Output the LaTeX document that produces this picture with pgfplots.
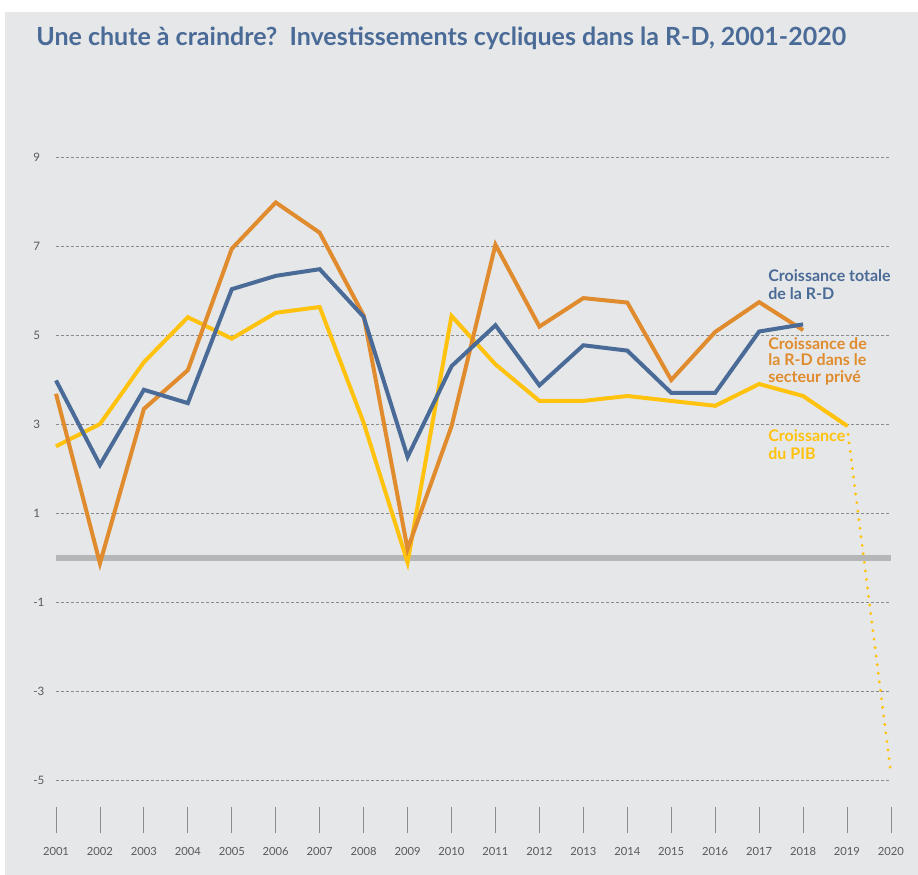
\documentclass[border=0pt]{standalone}
\usepackage{pgfplots}
\pgfplotsset{compat=1.18}
\usepackage{fontspec}
\setmainfont{Lato}
\definecolor{bg}{HTML}{E6E7E8}
\definecolor{rdblue}{HTML}{4A6B97}
\definecolor{rdorange}{HTML}{E08B2D}
\definecolor{pibyellow}{HTML}{FFC20E}
\definecolor{zerogrey}{HTML}{B5B6B8}
\definecolor{gridgrey}{HTML}{8A8B8D}
\definecolor{ticktext}{HTML}{58595B}
\begin{document}
\begin{tikzpicture}
\path[use as bounding box] (0,0) rectangle (459pt,437.5pt);
\fill[bg] (2.5pt,0) rectangle (459pt,431.5pt);
\node[anchor=west, inner sep=0pt, text=rdblue, font=\fontsize{12.5}{14}\selectfont\bfseries] at (18pt,418.5pt) {Une chute à craindre?\ \ Investissements cycliques dans la R-D, 2001-2020};
\begin{axis}[
  at={(28pt,47.25pt)}, anchor=south west,
  width=417.5pt, height=311.5pt, scale only axis,
  xmin=2001, xmax=2020, ymin=-5, ymax=9,
  axis line style={draw=none},
  clip=false,
  xtick={2001,...,2020},
  ytick={-5,-3,-1,1,3,5,7,9},
  major tick length=0pt,
  tick style={draw=none},
  /pgf/number format/assume math mode=true,
  /pgf/number format/1000 sep={},
  xticklabel style={anchor=north, inner sep=0pt, yshift=-33pt, font=\fontsize{5.6}{6}\selectfont, text=ticktext},
  yticklabel style={anchor=west, inner sep=0pt, xshift=-11.5pt, font=\fontsize{5.8}{6}\selectfont, text=ticktext},
  ymajorgrids,
  major grid style={gridgrey, dash pattern=on 1.5pt off 1pt, line width=0.4pt},
  extra y ticks={0},
  extra y tick labels={},
  extra y tick style={grid=major, major grid style={zerogrey, solid, line width=2.6pt}},
]
\pgfplotsinvokeforeach{2001,...,2020}{
  \draw[gridgrey, line width=0.4pt] (axis cs:#1,-5.6) -- (axis cs:#1,-6.18);
}
% PIB
\addplot[pibyellow, line width=2pt, mark=none] coordinates {
 (2001,2.51) (2002,3.01) (2003,4.40) (2004,5.41) (2005,4.93) (2006,5.51)
 (2007,5.64) (2008,3.04) (2009,-0.10) (2010,5.44) (2011,4.35) (2012,3.53)
 (2013,3.53) (2014,3.64) (2015,3.53) (2016,3.42) (2017,3.91) (2018,3.64)
 (2019,2.97)};
\addplot[pibyellow, line width=1.6pt, line cap=round, dash pattern=on 0pt off 4.3pt, mark=none] coordinates {
 (2019,2.97) (2020,-4.85)};
% prive
\addplot[rdorange, line width=2pt, mark=none] coordinates {
 (2001,3.69) (2002,-0.12) (2003,3.35) (2004,4.22) (2005,6.95) (2006,7.99)
 (2007,7.31) (2008,5.45) (2009,0.20) (2010,2.96) (2011,7.04) (2012,5.20)
 (2013,5.84) (2014,5.74) (2015,4.00) (2016,5.08) (2017,5.75) (2018,5.12)};
% totale
\addplot[rdblue, line width=2pt, mark=none] coordinates {
 (2001,3.99) (2002,2.09) (2003,3.78) (2004,3.48) (2005,6.04) (2006,6.34)
 (2007,6.49) (2008,5.42) (2009,2.27) (2010,4.31) (2011,5.23) (2012,3.88)
 (2013,4.78) (2014,4.66) (2015,3.71) (2016,3.71) (2017,5.09) (2018,5.25)};
\end{axis}
\node[anchor=north west, inner sep=0pt, align=left, text=rdblue, font=\fontsize{8}{9}\selectfont\bfseries] at (384pt,303pt) {Croissance totale\\de la R-D};
\node[anchor=north west, inner sep=0pt, align=left, text=rdorange, font=\fontsize{8}{8.3}\selectfont\bfseries] at (384pt,269pt) {Croissance de\\la R-D dans le\\secteur privé};
\node[anchor=north west, inner sep=0pt, align=left, text=pibyellow, font=\fontsize{8}{9}\selectfont\bfseries] at (384pt,223pt) {Croissance\\du PIB};
\end{tikzpicture}
\end{document}
